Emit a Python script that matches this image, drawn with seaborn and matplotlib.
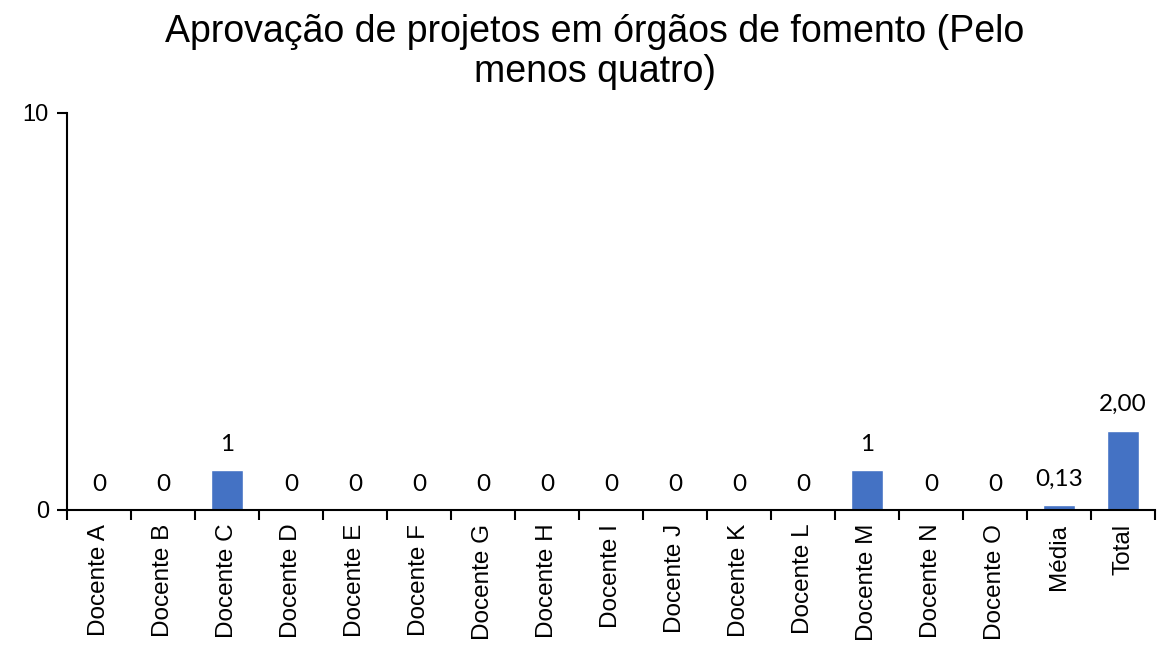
import matplotlib
matplotlib.use("Agg")
import matplotlib.pyplot as plt
import seaborn as sns
import pandas as pd
from matplotlib.ticker import FixedLocator

categorias = ["Docente A", "Docente B", "Docente C", "Docente D", "Docente E",
              "Docente F", "Docente G", "Docente H", "Docente I", "Docente J",
              "Docente K", "Docente L", "Docente M", "Docente N", "Docente O",
              "Média", "Total"]
valores = [0, 0, 1, 0, 0, 0, 0, 0, 0, 0, 0, 0, 1, 0, 0, 0.13, 2.00]
rotulos = ["0", "0", "1", "0", "0", "0", "0", "0", "0", "0", "0", "0", "1",
           "0", "0", "0,13", "2,00"]

sns.set_style("ticks")
plt.rcParams["font.family"] = ["Liberation Sans", "DejaVu Sans"]
plt.rcParams["text.color"] = "black"
plt.rcParams["xtick.color"] = "black"
plt.rcParams["ytick.color"] = "black"
plt.rcParams["xtick.labelcolor"] = "black"
plt.rcParams["ytick.labelcolor"] = "black"

df = pd.DataFrame({"categoria": categorias, "valor": valores})

fig = plt.figure(figsize=(11.66, 6.49), dpi=100)
ax = fig.add_axes([0.0575, 0.2142, 0.9331, 0.6117])

sns.barplot(data=df, x="categoria", y="valor", color="#4472C4",
            width=0.5, saturation=1, ax=ax)

ax.set_xlim(-0.5, len(categorias) - 0.5)
ax.set_ylim(0, 10)
ax.set_yticks([0, 10])
ax.set_yticklabels(["0", "10"], fontsize=17)
ax.set_xlabel("")
ax.set_ylabel("")

# category labels centred, tick marks on category boundaries
ax.set_xticks(range(len(categorias)))
ax.set_xticklabels(categorias, rotation=90, fontsize=17.5)
ax.tick_params(axis="x", which="major", length=0, pad=10)
ax.xaxis.set_minor_locator(FixedLocator([i - 0.5 for i in range(len(categorias) + 1)]))
ax.tick_params(axis="x", which="minor", length=7, width=1.5, color="black",
               direction="out", bottom=True)
ax.tick_params(axis="y", which="major", length=7, width=1.5, color="black",
               direction="out", pad=6, left=True)

for s in ["top", "right"]:
    ax.spines[s].set_visible(False)
for s in ["left", "bottom"]:
    ax.spines[s].set_color("black")
    ax.spines[s].set_linewidth(1.5)

for container in ax.containers:
    ax.bar_label(container, labels=rotulos, padding=11, fontsize=17.5,
                 family=["Lato", "DejaVu Sans"], color="black")

fig.suptitle("Aprovação de projetos em órgãos de fomento (Pelo\nmenos quatro)",
             x=0.51, y=0.978, fontsize=27, linespacing=1.15, color="black")

fig.savefig("out.png", dpi=100)
